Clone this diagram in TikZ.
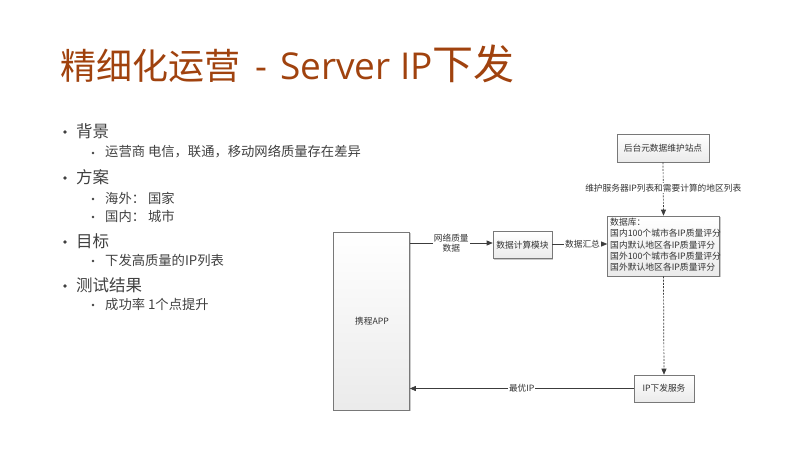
\documentclass[tikz,border=0pt]{standalone}
\usepackage{fontspec}
\setmainfont{Noto Sans CJK SC}
\newfontfamily\titlelatin{Open Sans}
\usetikzlibrary{arrows.meta,shadows}
\definecolor{titlecol}{RGB}{160,66,14}
\definecolor{bodytext}{RGB}{64,64,64}
\definecolor{boxline}{RGB}{120,120,120}
\definecolor{linecol}{RGB}{60,60,60}
\begin{document}
\begin{tikzpicture}[x=1pt,y=-1pt,
  bul/.style={anchor=west,text=bodytext,inner sep=0pt,font=\fontsize{16.5}{18}\selectfont},
  subbul/.style={anchor=west,text=bodytext,inner sep=0pt,font=\fontsize{13.3}{15}\selectfont},
  dot1/.style={circle,fill=bodytext,inner sep=0pt,minimum size=3.6pt},
  dot2/.style={circle,fill=bodytext,inner sep=0pt,minimum size=2.8pt},
  box/.style={draw=boxline,line width=0.6pt,top color=white,bottom color=black!8,
    drop shadow={shadow xshift=1.2pt,shadow yshift=-1.2pt,opacity=0.35,fill=black!60},
    inner sep=0pt,font=\fontsize{8.7}{10}\selectfont,text=black!80},
  arr/.style={draw=linecol,line width=0.7pt,-{Triangle[length=6pt,width=5pt]}},
  darr/.style={arr,dash pattern=on 2pt off 1.3pt},
  lbl/.style={fill=white,inner sep=1pt,font=\fontsize{8.7}{10.5}\selectfont,text=black!80,align=center}]
\useasboundingbox (0,0) rectangle (800,450);

% title
\node[anchor=base west,inner sep=0pt,text=titlecol,font=\fontsize{36}{40}\selectfont] (title) at (60,79)
  {精细化运营\hspace{15pt}{\titlelatin\fontsize{37}{40}\selectfont -\hspace{13pt}Server IP}{\fontsize{41}{44}\selectfont 下发}};

% bullet list
\node[dot1] (d1) at (65,132) {};
\node[bul] (b1) at (76,131) {背景};
\node[dot2] (d11) at (93,153) {};
\node[subbul] (b11) at (105,152) {运营商 电信，联通，移动网络质量存在差异};
\node[dot1] (d2) at (65,178) {};
\node[bul] (b2) at (76,177) {方案};
\node[dot2] (d21) at (93,199) {};
\node[subbul] (b21) at (105,198) {海外： 国家};
\node[dot2] (d22) at (93,217) {};
\node[subbul] (b22) at (105,216) {国内： 城市};
\node[dot1] (d3) at (65,242) {};
\node[bul] (b3) at (76,241) {目标};
\node[dot2] (d31) at (93,261) {};
\node[subbul] (b31) at (105,260) {下发高质量的IP列表};
\node[dot1] (d4) at (65,286) {};
\node[bul] (b4) at (76,285) {测试结果};
\node[dot2] (d41) at (93,305) {};
\node[subbul] (b41) at (105,304) {成功率 1个点提升};

% diagram boxes
\node[box,minimum width=76pt,minimum height=178pt] (app) at (371.5,321) {};
\node[font=\fontsize{8.7}{10}\selectfont,text=black!80] (applbl) at (372,321) {携程APP};
\node[box,minimum width=59pt,minimum height=27pt] (calc) at (522.5,245) {数据计算模块};
\node[box,minimum width=92pt,minimum height=28pt] (site) at (663,148) {后台元数据维护站点};
\node[box,minimum width=112pt,minimum height=60pt] (db) at (663.5,246) {};
\node[anchor=north west,inner sep=0pt,align=left,text=black!80,font=\fontsize{8.8}{11.2}\selectfont] (dbtext) at (610,218)
  {数据库：\\国内100个城市各IP质量评分\\国内默认地区各IP质量评分\\国外100个城市各IP质量评分\\国外默认地区各IP质量评分};
\node[box,minimum width=60pt,minimum height=27pt] (ipsvc) at (664,388.5) {IP下发服务};

% connectors
\draw[arr] (app.east |- 0,243) -- node[lbl,pos=0.5] {网络质量\\数据} (calc.west |- 0,243);
\draw[arr] (calc.east |- 0,244) -- node[lbl,pos=0.55] {数据汇总} (db.west |- 0,244);
\draw[darr] (site.south) -- node[lbl,pos=0.48] {维护服务器IP列表和需要计算的地区列表} (db.north);
\draw[darr] (db.south) -- (ipsvc.north);
\draw[arr] (ipsvc.west) -- node[lbl,pos=0.5] {最优IP} (app.east |- ipsvc.west);
\end{tikzpicture}
\end{document}
